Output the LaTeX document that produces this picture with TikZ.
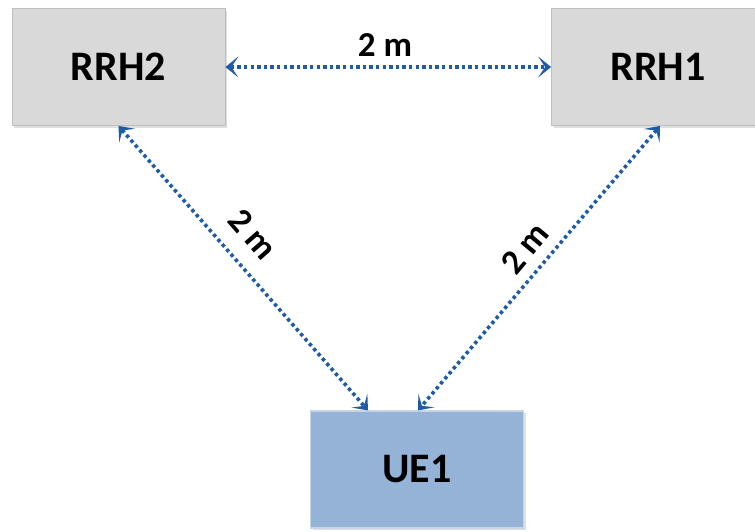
\documentclass[tikz,border=0pt]{standalone}
\usepackage{fontspec}
\setmainfont{Carlito}
\usetikzlibrary{arrows.meta,shadows}
\definecolor{boxgray}{HTML}{D9D9D9}
\definecolor{boxedge}{HTML}{BFBFBF}
\definecolor{uefill}{HTML}{95B3D7}
\definecolor{ueedge}{HTML}{C6D5E9}
\definecolor{linkblue}{HTML}{1F5CA6}
\tikzset{
  unit/.style={rectangle, minimum width=213pt, minimum height=117pt, inner sep=0pt,
    font=\fontsize{42}{50}\selectfont\bfseries,
    drop shadow={opacity=0.25, shadow xshift=2pt, shadow yshift=-2pt}},
  rrh/.style={unit, fill=boxgray, draw=boxedge, line width=0.8pt},
  ue/.style={unit, fill=uefill, draw=ueedge, line width=1.2pt},
  link/.style={draw=linkblue, line width=3.6pt, dash pattern=on 3.4pt off 3.2pt,
    {Stealth[length=13pt,width=21pt,inset=7pt]}-{Stealth[length=13pt,width=21pt,inset=7pt]}},
  dist/.style={font=\fontsize{35}{42}\selectfont\bfseries, inner sep=0pt}
}
\begin{document}
\begin{tikzpicture}[x=1pt,y=-1pt]
  \useasboundingbox (0,0) rectangle (755,531);
  \fill[white] (0,0) rectangle (755,531);
  % radio heads and user equipment
  \node[rrh] (rrh2) at (118.5,67) {RRH2};
  \node[rrh] (rrh1) at (658,67) {RRH1};
  \node[ue]  (ue1)  at (417,469.5) {UE1};
  % distance links
  \coordinate (ue1l) at ([xshift=-49pt]ue1.north);
  \coordinate (ue1r) at ([xshift=1pt]ue1.north);
  \draw[link] (rrh2.east) -- (rrh1.west);
  \draw[link] ([xshift=0pt]rrh2.south) -- (ue1l);
  \draw[link] ([xshift=2pt]rrh1.south) -- (ue1r);
  % distance labels
  \node[dist] (dtop) at (385,45) {2 m};
  \node[dist, rotate=-49] (dleft) at (253,234) {2 m};
  \node[dist, rotate=50] (dright) at (525,248) {2 m};
\end{tikzpicture}
\end{document}
